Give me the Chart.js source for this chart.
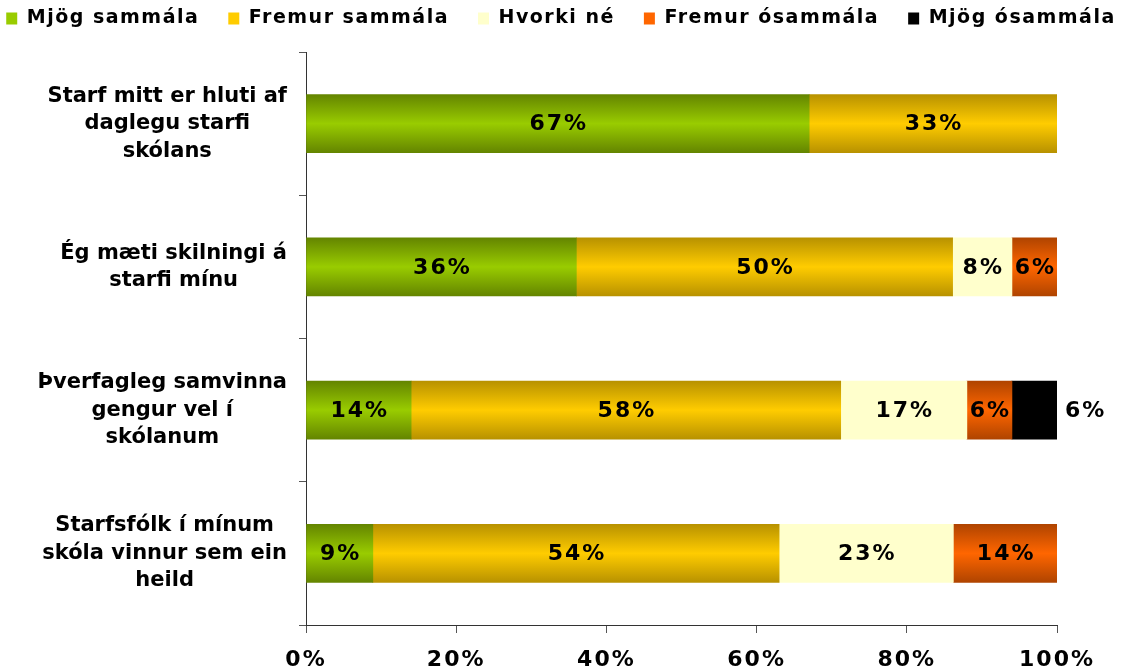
<!DOCTYPE html>
<html><head><meta charset="utf-8">
<script src="https://cdn.jsdelivr.net/npm/chart.js@4.4.1/dist/chart.umd.min.js"></script>
<style>html,body{margin:0;padding:0;background:#fff;overflow:hidden}#c{display:block}</style>
</head><body><canvas id="c" width="1122" height="670" style="width:1122px;height:670px"></canvas>
<script>
// ---- data ----
const categories = [
  ['Starf mitt er hluti af', 'daglegu starfi', 'skólans'],
  ['Ég mæti skilningi á', 'starfi mínu'],
  ['Þverfagleg samvinna', 'gengur vel í', 'skólanum'],
  ['Starfsfólk í mínum', 'skóla vinnur sem ein', 'heild']
];
const seriesNames = ['Mjög sammála', 'Fremur sammála', 'Hvorki né', 'Fremur ósammála', 'Mjög ósammála'];
const mjogSammala    = [67, 36, 14, 8.9];
const fremurSammala  = [33, 50.1, 57.2, 54.1];
const hvorkiNe       = [null, 7.9, 16.8, 23.2];
const fremurOsammala = [null, 6, 6, 13.8];
const mjogOsammala   = [null, null, 6, null];
const mjogSammalaLabels    = ['67%', '36%', '14%', '9%'];
const fremurSammalaLabels  = ['33%', '50%', '58%', '54%'];
const hvorkiNeLabels       = [null, '8%', '17%', '23%'];
const fremurOsammalaLabels = [null, '6%', '6%', '14%'];
const mjogOsammalaLabels   = [null, null, '6%', null];
const xTickLabels = ['0%', '20%', '40%', '60%', '80%', '100%'];

// ---- styles ----
const BAR = 58;
const FONT = '"DejaVu Sans"';
function shade(dark, light) {
  return (c) => {
    if (c.type !== 'data') return light;
    const ch = c.chart, ys = ch.scales && ch.scales.y;
    if (!ys || !ch.chartArea) return light;
    const yc = ys.getPixelForValue(c.dataIndex);
    const g = ch.ctx.createLinearGradient(0, yc - BAR / 2, 0, yc + BAR / 2);
    g.addColorStop(0, dark); g.addColorStop(0.5, light); g.addColorStop(1, dark);
    return g;
  };
}
const colLight = ['#99CC00', '#FFCC00', '#FFFFCC', '#FF6600', '#000000'];
const colDark  = ['#648500', '#B89200', '#FFFFCC', '#B04400', '#000000'];

function spaced(obj, method, spacing, pre, post) {
  const orig = obj[method];
  obj[method] = function (...args) {
    const c = this.ctx, prev = c.letterSpacing;
    c.letterSpacing = spacing;
    if (pre) pre.call(this);
    try { return orig.apply(this, args); } finally { c.letterSpacing = prev; if (post) post.call(this); }
  };
}
const patchPlugin = {
  id: 'patch',
  beforeLayout(chart) {
    const lg = chart.legend;
    if (lg && !lg.__p) {
      lg.__p = true;
      spaced(lg, 'fit', '1.5px',
        function () { this.maxWidth += 200; },
        function () { this.height = 72; });
      spaced(lg, 'draw', '1.5px',
        function () { this.left -= 60; this.right += 60; },
        function () { this.left += 60; this.right -= 60; });
    }
    const xs = chart.scales.x;
    if (xs && !xs.__p) { xs.__p = true; spaced(xs, 'drawLabels', '2px'); }
    const ys = chart.scales.y;
    if (ys && !ys.__p) {
      ys.__p = true;
      const proto = Object.getPrototypeOf(ys);
      ys.getLabelItems = function (ca) {
        const items = proto.getLabelItems.call(this, ca);
        const c = this.ctx;
        c.save();
        const right = this.right - 7 - 12;
        items.forEach(it => {
          c.font = it.font.string;
          const lines = Array.isArray(it.label) ? it.label : [it.label];
          const w = Math.max(...lines.map(l => c.measureText(l).width));
          it.options.translation[0] = right - w / 2;
        });
        c.restore();
        return items;
      };
    }
  }
};
const valueLabels = {
  id: 'valueLabels',
  afterDatasetsDraw(chart) {
    const ctx = chart.ctx;
    ctx.save();
    ctx.font = 'bold 22px ' + FONT;
    ctx.letterSpacing = '2px';
    ctx.fillStyle = '#000';
    ctx.textBaseline = 'middle';
    chart.data.datasets.forEach((ds, di) => {
      const meta = chart.getDatasetMeta(di);
      meta.data.forEach((bar, i) => {
        const txt = ds.valueLabels[i];
        if (!txt) return;
        if (ds.labelOutside) { ctx.textAlign = 'left'; ctx.fillText(txt, bar.x + 8, bar.y + 1); }
        else { ctx.textAlign = 'center'; ctx.fillText(txt, (bar.x + bar.base) / 2 + 1, bar.y + 1); }
      });
    });
    ctx.restore();
  }
};

const values = [mjogSammala, fremurSammala, hvorkiNe, fremurOsammala, mjogOsammala];
const labelSets = [mjogSammalaLabels, fremurSammalaLabels, hvorkiNeLabels, fremurOsammalaLabels, mjogOsammalaLabels];

function build() {
  new Chart(document.getElementById('c'), {
    type: 'bar',
    data: {
      labels: categories,
      datasets: seriesNames.map((n, i) => ({
        label: n,
        data: values[i],
        valueLabels: labelSets[i],
        labelOutside: i === 4,
        backgroundColor: shade(colDark[i], colLight[i]),
        borderWidth: 0,
        barThickness: BAR
      }))
    },
    options: {
      indexAxis: 'y',
      responsive: false,
      animation: false,
      devicePixelRatio: 1,
      layout: { padding: { top: -20, right: 0, bottom: 0, left: 0 } },
      plugins: {
        tooltip: { enabled: false },
        legend: {
          position: 'top',
          labels: {
            boxWidth: 11, boxHeight: 12, padding: 29,
            color: '#000',
            font: { family: FONT, size: 19, weight: 'bold' },
            generateLabels: () => seriesNames.map((n, i) => ({
              text: n, fillStyle: colLight[i], strokeStyle: colLight[i], lineWidth: 0,
              hidden: false, datasetIndex: i, fontColor: '#000'
            }))
          }
        }
      },
      scales: {
        x: {
          stacked: true, min: 0, max: 100,
          afterFit: s => { s.height = 45; },
          ticks: {
            stepSize: 20, padding: 14, color: '#000', maxRotation: 0,
            font: { family: FONT, size: 22, weight: 'bold' },
            callback: (v, i) => xTickLabels[i]
          },
          grid: { display: true, drawOnChartArea: false, tickLength: 8, color: '#555' },
          border: { display: true, color: '#333', width: 1 }
        },
        y: {
          stacked: true,
          afterFit: s => { s.width = 306; s.paddingTop = 0; s.paddingBottom = 0; },
          ticks: {
            padding: 12, color: '#000', crossAlign: 'center',
            font: { family: FONT, size: 21, weight: 'bold', lineHeight: 1.31 }
          },
          grid: { display: true, drawOnChartArea: false, tickLength: 7, color: '#555', offset: true },
          border: { display: true, color: '#333', width: 1 }
        },
        rightGap: {
          type: 'linear', position: 'right', display: true,
          afterFit: s => { s.width = 65; s.paddingTop = 0; s.paddingBottom = 0; },
          ticks: { display: false },
          grid: { display: false },
          border: { display: false }
        }
      }
    },
    plugins: [patchPlugin, valueLabels]
  });
}
const fontLoads = [
  document.fonts.load('bold 22px "DejaVu Sans"', 'Mjög 0%'),
  document.fonts.load('bold 19px "DejaVu Sans"', 'Mjög 0%')
];
Promise.all(fontLoads).then(build, build);
</script></body></html>
